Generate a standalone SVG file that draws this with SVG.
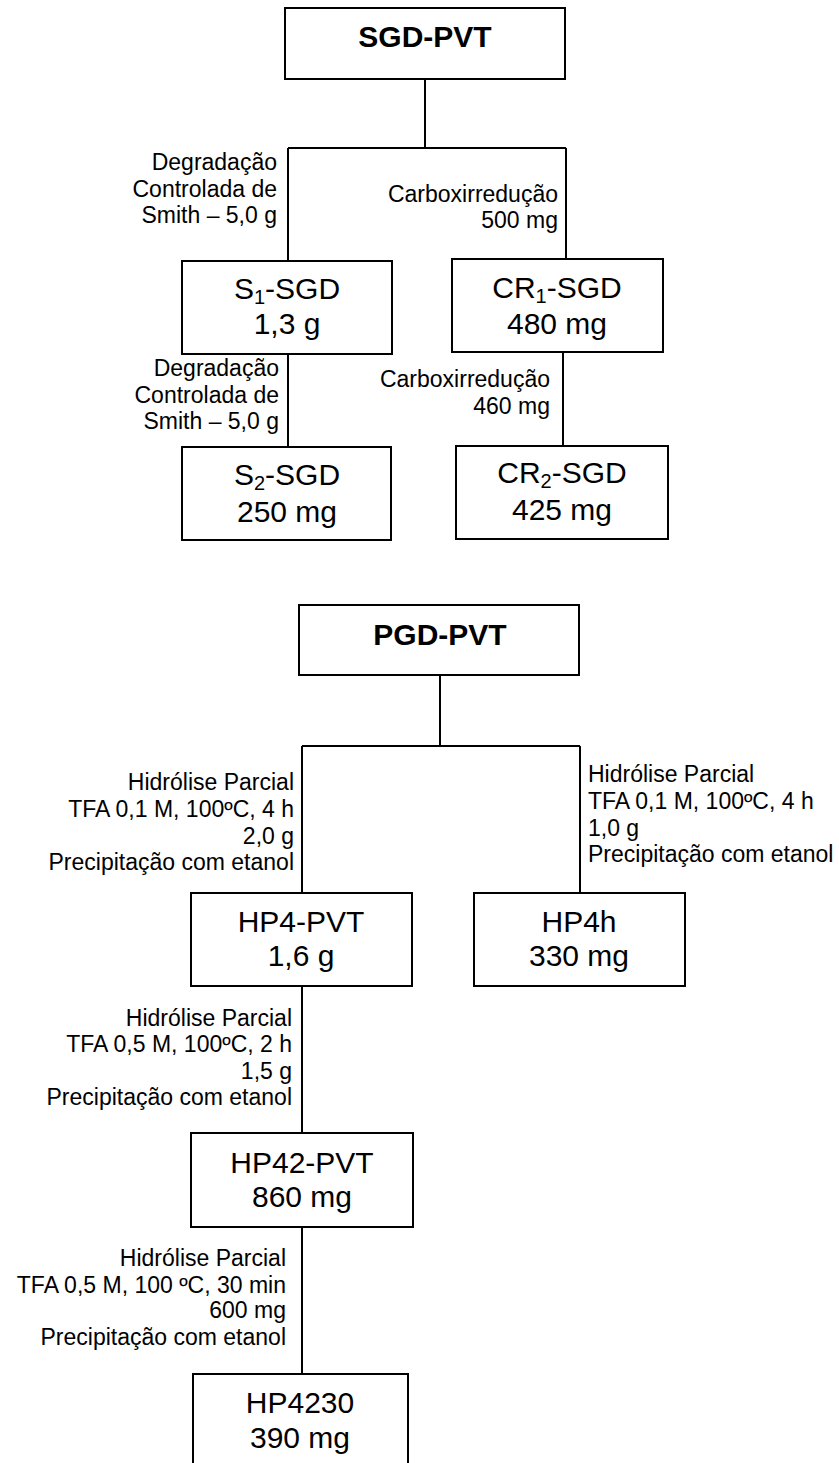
<svg xmlns="http://www.w3.org/2000/svg" width="839" height="1463" viewBox="0 0 839 1463">
<style>
.box{fill:#fff;stroke:#000;stroke-width:2}
.ln{fill:none;stroke:#000;stroke-width:2}
text{font-family:"Liberation Sans",Arial,sans-serif;fill:#000}
.t{font-size:30px;text-anchor:middle}
.b{font-size:30px;font-weight:bold;text-anchor:middle}
.l{font-size:23px;text-anchor:end}
.r{font-size:23px;text-anchor:start}
.s{font-size:20px}
</style>
<rect width="839" height="1463" fill="#fff"/>
<g id="connectors">
<path class="ln" d="M425,79 V148 M288,148 H566 M288,148 V261 M566,148 V259"/>
<path class="ln" d="M288,354 V447 M563,352 V446"/>
<path class="ln" d="M440,675 V746 M302,746 H580 M302,746 V893 M580,746 V893"/>
<path class="ln" d="M302,986 V1133 M302,1227 V1374"/>
</g>
<g id="labels">
<text class="l" x="277" y="170">Degradação</text>
<text class="l" x="277" y="197">Controlada de</text>
<text class="l" x="277" y="223">Smith – 5,0 g</text>
<text class="l" x="558" y="202">Carboxirredução</text>
<text class="l" x="558" y="228">500 mg</text>
<text class="l" x="279" y="376">Degradação</text>
<text class="l" x="279" y="403">Controlada de</text>
<text class="l" x="279" y="429">Smith – 5,0 g</text>
<text class="l" x="550" y="387">Carboxirredução</text>
<text class="l" x="550" y="414">460 mg</text>
<text class="l" x="294" y="790">Hidrólise Parcial</text>
<text class="l" x="294" y="817">TFA 0,1 M, 100ºC, 4 h</text>
<text class="l" x="294" y="844">2,0 g</text>
<text class="l" x="294" y="870">Precipitação com etanol</text>
<text class="r" x="588" y="782">Hidrólise Parcial</text>
<text class="r" x="588" y="809">TFA 0,1 M, 100ºC, 4 h</text>
<text class="r" x="588" y="836">1,0 g</text>
<text class="r" x="588" y="862">Precipitação com etanol</text>
<text class="l" x="292" y="1026">Hidrólise Parcial</text>
<text class="l" x="292" y="1052">TFA 0,5 M, 100ºC, 2 h</text>
<text class="l" x="292" y="1079">1,5 g</text>
<text class="l" x="292" y="1105">Precipitação com etanol</text>
<text class="l" x="286" y="1266">Hidrólise Parcial</text>
<text class="l" x="286" y="1293">TFA 0,5 M, 100 ºC, 30 min</text>
<text class="l" x="286" y="1318">600 mg</text>
<text class="l" x="286" y="1345">Precipitação com etanol</text>
</g>
<g id="sgd-pvt"><rect class="box" x="285" y="8" width="280" height="71"/><text class="b" x="425" y="47">SGD-PVT</text></g>
<g id="s1-sgd"><rect class="box" x="182" y="261" width="210" height="93"/><text class="t" x="287" y="299">S<tspan class="s" dy="5">1</tspan><tspan dy="-5">-SGD</tspan></text><text class="t" x="287" y="334">1,3 g</text></g>
<g id="cr1-sgd"><rect class="box" x="452" y="259" width="211" height="93"/><text class="t" x="557" y="298">CR<tspan class="s" dy="5">1</tspan><tspan dy="-5">-SGD</tspan></text><text class="t" x="557" y="334">480 mg</text></g>
<g id="s2-sgd"><rect class="box" x="182" y="447" width="209" height="93"/><text class="t" x="287" y="485">S<tspan class="s" dy="5">2</tspan><tspan dy="-5">-SGD</tspan></text><text class="t" x="287" y="522">250 mg</text></g>
<g id="cr2-sgd"><rect class="box" x="456" y="446" width="212" height="93"/><text class="t" x="562" y="483">CR<tspan class="s" dy="5">2</tspan><tspan dy="-5">-SGD</tspan></text><text class="t" x="562" y="520">425 mg</text></g>
<g id="pgd-pvt"><rect class="box" x="299" y="605" width="280" height="70"/><text class="b" x="440" y="645">PGD-PVT</text></g>
<g id="hp4-pvt"><rect class="box" x="191" y="893" width="221" height="93"/><text class="t" x="301" y="932">HP4-PVT</text><text class="t" x="301" y="966">1,6 g</text></g>
<g id="hp4h"><rect class="box" x="474" y="893" width="211" height="93"/><text class="t" x="579" y="932">HP4h</text><text class="t" x="579" y="966">330 mg</text></g>
<g id="hp42-pvt"><rect class="box" x="191" y="1133" width="222" height="94"/><text class="t" x="302" y="1173">HP42-PVT</text><text class="t" x="302" y="1207">860 mg</text></g>
<g id="hp4230"><rect class="box" x="193" y="1374" width="215" height="100"/><text class="t" x="300" y="1413">HP4230</text><text class="t" x="300" y="1448">390 mg</text></g>
</svg>
